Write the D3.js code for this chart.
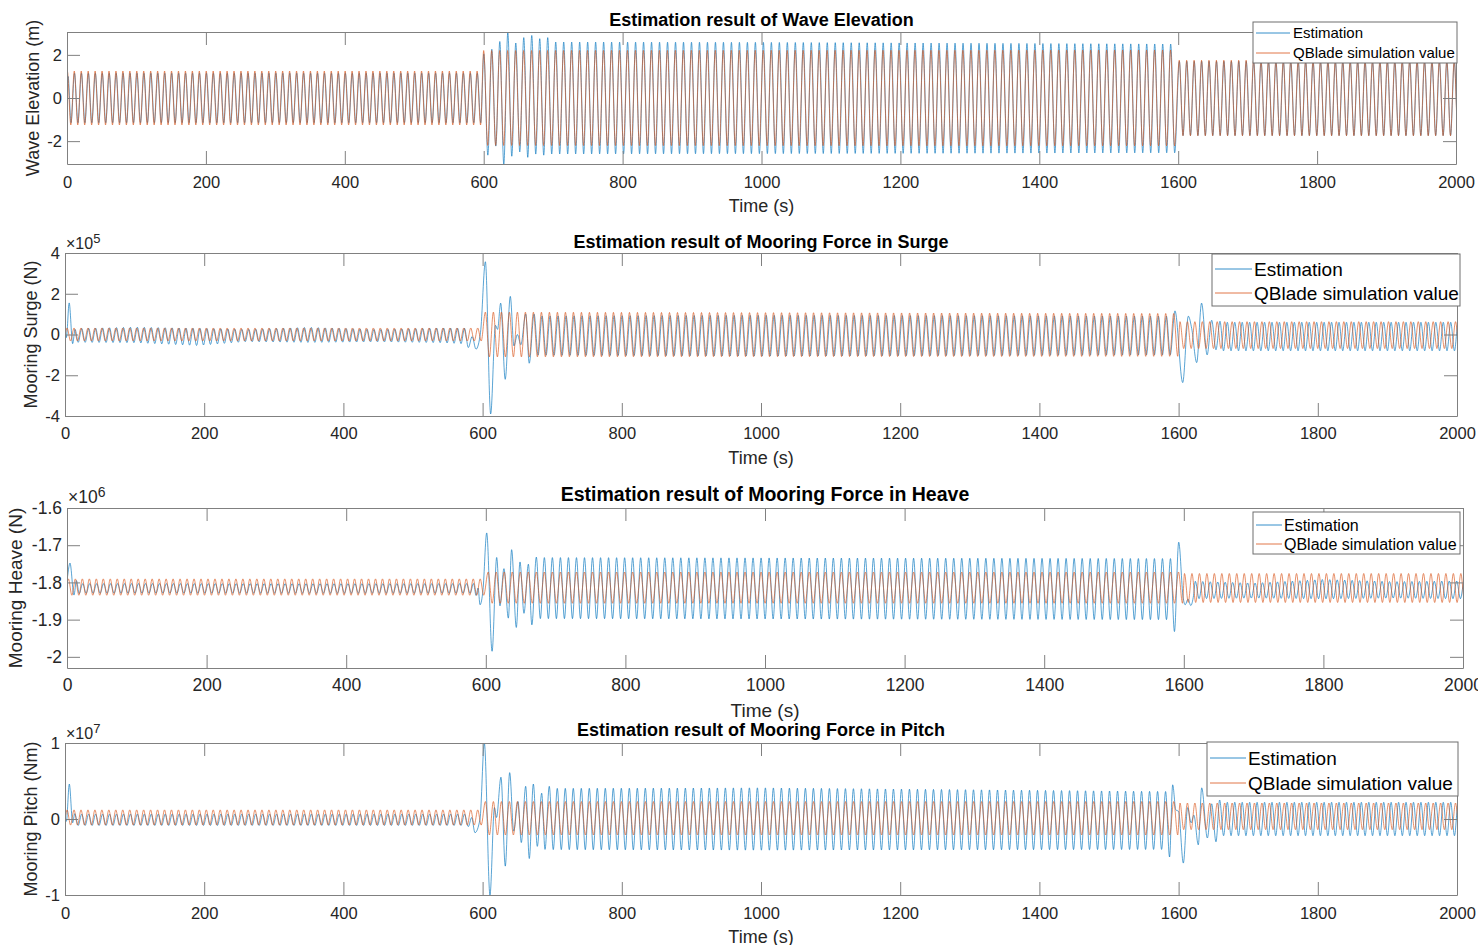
<!DOCTYPE html>
<html><head><meta charset="utf-8">
<script src="https://cdn.jsdelivr.net/npm/d3@7"></script>
<style>
body{margin:0;background:#fff;}
svg{display:block;font-family:"Liberation Sans",Arial,Helvetica,sans-serif;}
</style></head><body>
<svg id="chart" width="1478" height="945"></svg>
<script>
// ================= DATA =================
const timeTicks = [0,200,400,600,800,1000,1200,1400,1600,1800,2000];
const segmentStarts = [0, 600, 1600];      // sea-state changes (s)
const timeEnd = 2000;
const seriesNames = ["Estimation", "QBlade simulation value"];

// envelope keypoints: [time, mean, half-amplitude]; transients: explicit turning points [time, value]
// ---- Wave elevation (m)
const waveYTicks = [-2, 0, 2];
const waveQBladePeriod = [10, 11.5, 10.7];
const waveQBladePhase = [0.5, 0, 1.5];
const waveQBladeEnvelope = [[0,0,1.25],[599.9,0,1.25],[600,0,2.2],[1599.9,0,2.22],[1600,0,1.75],[2000,0,1.75]];
const waveQBladeTransients = [];
const waveEstPeriod = [10, 11.5, 10.7];
const waveEstPhase = [0.8, 0.2, 1.7];
const waveEstEnvelope = [[0,0,1.15],[599.9,0,1.15],[600,0,2.6],[1000,0,2.58],[1599.9,-0.02,2.52],[1600,-0.02,1.72],[2000,-0.02,1.72]];
const waveEstTransients = [
  [[0,0.25],[1.6,1.0]],
  [[600.2,2.05],[605.95,-2.65],[611.7,2.26],[617.45,-2.23],[623.2,2.62],[628.95,-3.07],[634.7,3.04],[640.45,-2.7],[646.2,2.55],[651.95,-2.5],[657.7,2.8],[663.45,-2.75],[669.2,2.9],[674.95,-2.6],[680.7,2.75],[686.45,-2.65],[692.2,2.8]]
];

// ---- Mooring surge (x1e5 N)
const surgeYTicks = [-4, -2, 0, 2, 4];
const surgeQBladePeriod = [10, 11.5, 10.7];
const surgeQBladePhase = [3, 4, 2];
const surgeQBladeEnvelope = [[0,0,0.32],[599.9,0,0.32],[600,0,1.1],[1599.9,-0.02,1.05],[1600,-0.03,0.66],[2000,-0.03,0.66]];
const surgeQBladeTransients = [];
const surgeEstPeriod = [10, 11.5, 10.7];
const surgeEstPhase = [4, 5, 5.8];
const surgeEstEnvelope = [[0,-0.05,0.33],[100,-0.02,0.38],[190,-0.12,0.42],[260,-0.05,0.3],[350,-0.02,0.37],[450,-0.06,0.3],[540,-0.04,0.36],[599.9,-0.1,0.4],[600,-0.05,0.95],[1000,-0.06,1.0],[1599.9,-0.05,0.95],[1600,-0.1,0.7],[2000,-0.1,0.7]];
const surgeEstTransients = [
  [[0,0.35],[2,-0.15],[6,1.55],[11,-0.45],[14.5,0.25]],
  [[579.5,-0.64],[585,-0.1],[590.5,-0.72],[597,0.1],[604,3.57],[611.6,-3.9],[618.5,0.45],[621.5,0.25],[626,1.54],[632.5,-2.2],[639.8,1.87],[645,-0.56],[650,0.0],[655,-0.5],[662,1.0],[667,-1.41],[674,1.0]],
  [[1588,-1.0],[1594.8,1.16],[1605.9,-2.36],[1614,0.9],[1618.8,0.3],[1626,-1.38],[1633,1.54],[1641,-1.0],[1647.5,0.7],[1653.7,-0.75],[1659.5,0.65],[1664.5,-0.8]]
];

// ---- Mooring heave (x1e6 N)
const heaveYTicks = [-2, -1.9, -1.8, -1.7, -1.6];
const heaveQBladePeriod = [10, 11.5, 10.7];
const heaveQBladePhase = [2, 3.4, 1];
const heaveQBladeEnvelope = [[0,-1.8125,0.022],[599.9,-1.8125,0.022],[600,-1.814,0.042],[1599.9,-1.814,0.042],[1600,-1.815,0.039],[2000,-1.815,0.039]];
const heaveQBladeTransients = [];
const heaveEstPeriod = [10, 11.5, 10.7];
const heaveEstPhase = [2.5, 3.4, 5.8];
const heaveEstEnvelope = [[0,-1.816,0.013],[599.9,-1.816,0.013],[600,-1.815,0.082],[1599.9,-1.818,0.082],[1600,-1.82,0.024],[1700,-1.822,0.02],[1800,-1.818,0.026],[1900,-1.82,0.022],[2000,-1.82,0.024]];
const heaveEstTransients = [
  [[0,-1.795],[4.3,-1.748],[10,-1.834],[13.5,-1.795],[17.5,-1.83]],
  [[586,-1.835],[589,-1.815],[591.7,-1.86],[596,-1.82],[601.3,-1.667],[609,-1.985],[615.6,-1.733],[620.3,-1.863],[626,-1.763],[632.3,-1.896],[637,-1.712],[643.7,-1.921],[649,-1.745],[654.7,-1.883],[661,-1.751],[666,-1.914],[672.4,-1.732]],
  [[1586.6,-1.932],[1592.7,-1.692],[1599,-1.84],[1602,-1.86],[1606,-1.845],[1610,-1.862],[1614,-1.835]]
];

// ---- Mooring pitch (x1e7 Nm)
const pitchYTicks = [-1, 0, 1];
const pitchQBladePeriod = [10, 11.5, 10.7];
const pitchQBladePhase = [3, 4, 2];
const pitchQBladeEnvelope = [[0,0.02,0.1],[599.9,0.02,0.1],[600,0.01,0.22],[1599.9,0.01,0.22],[1600,0.035,0.175],[2000,0.035,0.175]];
const pitchQBladeTransients = [];
const pitchEstPeriod = [10, 11.5, 10.7];
const pitchEstPhase = [4, 3.8, 5.8];
const pitchEstEnvelope = [[0,-0.01,0.075],[599.9,-0.01,0.075],[600,0,0.4],[1000,0,0.41],[1599.9,-0.02,0.38],[1600,0,0.22],[2000,0,0.22]];
const pitchEstTransients = [
  [[0,0],[2,-0.03],[6.2,0.46],[11,-0.05],[14,0.07]],
  [[579.5,-0.1],[584.3,0.02],[589,-0.18],[596.3,0.0],[602.5,1.0],[610.6,-1.0],[617,0.15],[620,0.02],[626.4,0.55],[632.6,-0.62],[638.9,0.61],[644.7,-0.16],[650.9,0.23],[655.6,-0.31],[661.9,0.43],[667.1,-0.52],[672.9,0.46],[678.6,-0.36],[684.9,0.34],[689.7,-0.4],[695.8,0.43]],
  [[1587,-0.5],[1591.5,0.45],[1596,0.12],[1600,0.1],[1606.8,-0.58],[1613,0.15],[1618,-0.05],[1622,0.05],[1628.3,-0.34],[1633.2,0.41],[1641.3,-0.25],[1647.5,0.2],[1653.7,-0.3],[1659,0.25]]
];

// ================= BUILD TURNING POINTS =================
function buildTurningPoints(period, phase, envelope, transients) {
  const et = envelope.map(d => d[0]);
  const meanAt = d3.scaleLinear().domain(et).range(envelope.map(d => d[1])).clamp(true);
  const ampAt = d3.scaleLinear().domain(et).range(envelope.map(d => d[2])).clamp(true);
  let pts = [];
  segmentStarts.forEach((s0, i) => {
    const p = period[i], h = p / 2, origin = s0 + phase[i];
    const lo = i === 0 ? s0 - p : s0;
    const hi = i < segmentStarts.length - 1 ? segmentStarts[i + 1] : timeEnd + p;
    for (let k = Math.ceil((lo - origin) / h); origin + k * h < hi; k++) {
      const t = origin + k * h;
      const sgn = (Math.abs(k) % 2 === 0) ? 1 : -1;
      pts.push([t, meanAt(t) + sgn * ampAt(t)]);
    }
  });
  transients.forEach(tr => {
    const a = tr[0][0] - 2.2, b = tr[tr.length - 1][0] + 2.2;
    pts = pts.filter(d => d[0] < a || d[0] > b).concat(tr);
  });
  pts.sort((u, v) => u[0] - v[0]);
  return pts;
}

// ================= DRAW =================
const svg = d3.select("#chart");
const colEst = "#0072BD", colQB = "#D95319";
const axisCol = "#808080", textCol = "#262626";

const panels = [
  { id:"wave", left:67, right:1456, top:32, bottom:164, yDomain:[-3.06,3.06], yTicks:waveYTicks,
    title:"Estimation result of Wave Elevation", ylabel:"Wave Elevation (m)", ylabelX:39,
    titleY:25.5, tickY:188, xlabelY:211.5, fTick:16.5, fLabel:18, fTitle:18, exp:null,
    legend:{x0:1253,y0:22,x1:1457,y1:63,lx0:1256,lx1:1290,tx:1293,rows:[33,53],f:15},
    est:buildTurningPoints(waveEstPeriod, waveEstPhase, waveEstEnvelope, waveEstTransients),
    qb:buildTurningPoints(waveQBladePeriod, waveQBladePhase, waveQBladeEnvelope, waveQBladeTransients) },
  { id:"surge", left:65, right:1457, top:253, bottom:416, yDomain:[-4,4], yTicks:surgeYTicks,
    title:"Estimation result of Mooring Force in Surge", ylabel:"Mooring Surge (N)", ylabelX:37,
    titleY:247.5, tickY:439, xlabelY:463.5, fTick:16.5, fLabel:18, fTitle:18,
    exp:{x:66,y:249,sup:"5",f:16,fs:13,dy:-6},
    legend:{x0:1212,y0:254,x1:1460,y1:306,lx0:1215,lx1:1252,tx:1254,rows:[269,293],f:19},
    est:buildTurningPoints(surgeEstPeriod, surgeEstPhase, surgeEstEnvelope, surgeEstTransients),
    qb:buildTurningPoints(surgeQBladePeriod, surgeQBladePhase, surgeQBladeEnvelope, surgeQBladeTransients) },
  { id:"heave", left:67, right:1463, top:508, bottom:668, yDomain:[-2.03,-1.6], yTicks:heaveYTicks,
    title:"Estimation result of Mooring Force in Heave", ylabel:"Mooring Heave (N)", ylabelX:22,
    titleY:501, tickY:691, xlabelY:717, fTick:17.5, fLabel:19, fTitle:19.5,
    exp:{x:68,y:503,sup:"6",f:17.5,fs:14,dy:-6},
    legend:{x0:1253,y0:512,x1:1460,y1:554,lx0:1256,lx1:1282,tx:1284,rows:[525,544],f:16},
    est:buildTurningPoints(heaveEstPeriod, heaveEstPhase, heaveEstEnvelope, heaveEstTransients),
    qb:buildTurningPoints(heaveQBladePeriod, heaveQBladePhase, heaveQBladeEnvelope, heaveQBladeTransients) },
  { id:"pitch", left:65, right:1457, top:743, bottom:895, yDomain:[-1,1], yTicks:pitchYTicks,
    title:"Estimation result of Mooring Force in Pitch", ylabel:"Mooring Pitch (Nm)", ylabelX:37,
    titleY:735.5, tickY:919, xlabelY:942.5, fTick:16.5, fLabel:18, fTitle:18,
    exp:{x:66,y:739,sup:"7",f:16,fs:13,dy:-6},
    legend:{x0:1207,y0:742,x1:1458,y1:796,lx0:1210,lx1:1246,tx:1248,rows:[758,783],f:19},
    est:buildTurningPoints(pitchEstPeriod, pitchEstPhase, pitchEstEnvelope, pitchEstTransients),
    qb:buildTurningPoints(pitchQBladePeriod, pitchQBladePhase, pitchQBladeEnvelope, pitchQBladeTransients) }
];

const defs = svg.append("defs");

panels.forEach(cfg => {
  const g = svg.append("g");
  const x = d3.scaleLinear().domain([0, timeEnd]).range([cfg.left, cfg.right]);
  const y = d3.scaleLinear().domain(cfg.yDomain).range([cfg.bottom, cfg.top]);

  defs.append("clipPath").attr("id", "clip-" + cfg.id)
    .append("rect").attr("x", cfg.left).attr("y", cfg.top)
    .attr("width", cfg.right - cfg.left).attr("height", cfg.bottom - cfg.top);

  const line = d3.line().x(d => x(d[0])).y(d => y(d[1])).curve(d3.curveMonotoneX);
  const lg = g.append("g").attr("clip-path", "url(#clip-" + cfg.id + ")");
  lg.append("path").attr("d", line(cfg.est)).attr("fill", "none").attr("stroke", colEst).attr("stroke-width", 0.65);
  lg.append("path").attr("d", line(cfg.qb)).attr("fill", "none").attr("stroke", colQB).attr("stroke-width", 0.65);

  const tl = 13;
  const styleAxis = sel => {
    sel.selectAll("path.domain").attr("stroke", axisCol).attr("stroke-width", 1);
    sel.selectAll(".tick line").attr("stroke", axisCol).attr("stroke-width", 1);
    sel.selectAll("text").attr("fill", textCol);
    sel.attr("font-family", null);
  };
  const xb = g.append("g").attr("transform", `translate(0,${cfg.bottom})`)
    .call(d3.axisBottom(x).tickValues(timeTicks).tickSizeInner(-tl).tickSizeOuter(0).tickFormat(d3.format("d")));
  xb.attr("font-size", cfg.fTick);
  xb.selectAll("text").attr("y", cfg.tickY - cfg.bottom).attr("dy", 0);
  styleAxis(xb);
  const xt = g.append("g").attr("transform", `translate(0,${cfg.top})`)
    .call(d3.axisTop(x).tickValues(timeTicks).tickSizeInner(-tl).tickSizeOuter(0).tickFormat(""));
  styleAxis(xt);
  const yl = g.append("g").attr("transform", `translate(${cfg.left},0)`)
    .call(d3.axisLeft(y).tickValues(cfg.yTicks).tickSizeInner(-tl).tickSizeOuter(0).tickFormat(d => String(d)).tickPadding(5));
  yl.attr("font-size", cfg.fTick);
  styleAxis(yl);
  const yr = g.append("g").attr("transform", `translate(${cfg.right},0)`)
    .call(d3.axisRight(y).tickValues(cfg.yTicks).tickSizeInner(-tl).tickSizeOuter(0).tickFormat(""));
  styleAxis(yr);

  const cx = (cfg.left + cfg.right) / 2;
  g.append("text").attr("x", cx).attr("y", cfg.titleY).attr("text-anchor", "middle")
    .attr("font-weight", "bold").attr("font-size", cfg.fTitle).attr("fill", "#000").text(cfg.title);
  g.append("text").attr("x", cx).attr("y", cfg.xlabelY).attr("text-anchor", "middle")
    .attr("font-size", cfg.fLabel).attr("fill", textCol).text("Time (s)");
  g.append("text").attr("transform", `translate(${cfg.ylabelX},${(cfg.top + cfg.bottom) / 2}) rotate(-90)`)
    .attr("text-anchor", "middle").attr("font-size", cfg.fLabel).attr("fill", textCol).text(cfg.ylabel);

  if (cfg.exp) {
    const t = g.append("text").attr("x", cfg.exp.x).attr("y", cfg.exp.y).attr("font-size", cfg.exp.f).attr("fill", textCol);
    t.append("tspan").text("\u00d710");
    t.append("tspan").attr("font-size", cfg.exp.fs).attr("dy", cfg.exp.dy).text(cfg.exp.sup);
  }

  const L = cfg.legend;
  const lgd = g.append("g");
  lgd.append("rect").attr("x", L.x0).attr("y", L.y0).attr("width", L.x1 - L.x0).attr("height", L.y1 - L.y0)
    .attr("fill", "#fff").attr("stroke", "#6e6e6e").attr("stroke-width", 1);
  [colEst, colQB].forEach((c, i) => {
    lgd.append("line").attr("x1", L.lx0).attr("x2", L.lx1).attr("y1", L.rows[i]).attr("y2", L.rows[i])
      .attr("stroke", c).attr("stroke-width", 0.8);
    lgd.append("text").attr("x", L.tx).attr("y", L.rows[i]).attr("dy", "0.36em")
      .attr("font-size", L.f).attr("fill", "#000").text(seriesNames[i]);
  });
});
</script>
</body></html>
